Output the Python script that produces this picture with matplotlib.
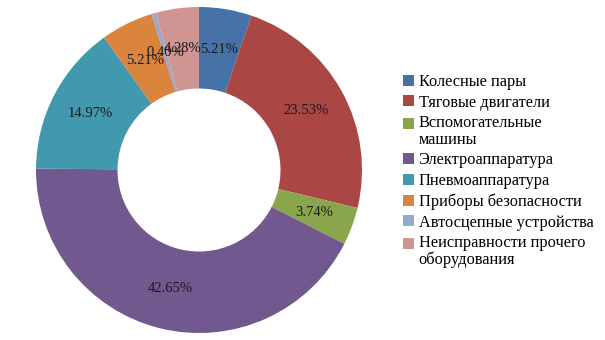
import matplotlib
matplotlib.use("Agg")
import matplotlib.pyplot as plt
from matplotlib.patches import Patch, Rectangle
from matplotlib.legend_handler import HandlerPatch

categories = ["Колесные пары", "Тяговые двигатели", "Вспомогательные\nмашины",
              "Электроаппаратура", "Пневмоаппаратура", "Приборы безопасности",
              "Автосцепные устройства", "Неисправности прочего\nоборудования"]
values = [5.21, 23.53, 3.74, 42.65, 14.97, 5.21, 0.40, 4.28]
colors = ["#4672A8", "#AA4644", "#8AA64D", "#71588F", "#4298AF", "#DB843D", "#93A9CF", "#D09493"]

plt.rcParams['font.family'] = ['Liberation Serif', 'DejaVu Serif']

fig = plt.figure(figsize=(6.05, 3.4), dpi=100)
ax = fig.add_axes([36/605, 7/340, 326/605, 326/340])

wedges, texts, autotexts = ax.pie(
    values, colors=colors, startangle=90, counterclock=False,
    radius=1.0, wedgeprops=dict(width=0.5, linewidth=0),
    autopct=lambda p: f"{p:.2f}%", pctdistance=0.75,
    textprops=dict(fontsize=10.5, color="#1a1a1a"))
ax.set_xlim(-1, 1)
ax.set_ylim(-1, 1)
ax.set_aspect('equal')
ax.axis('off')


class TopHandler(HandlerPatch):
    def __init__(self, shift):
        super().__init__()
        self.shift = shift

    def create_artists(self, legend, orig_handle, xdescent, ydescent, width, height,
                       fontsize, trans):
        p = Rectangle((-xdescent, -ydescent + self.shift), width, height,
                      facecolor=orig_handle.get_facecolor(), edgecolor='none',
                      transform=trans)
        return [p]


handles = [Patch(facecolor=c, edgecolor='none') for c in colors]
hmap = {h: TopHandler(6.0) for h, lab in zip(handles, categories) if "\n" in lab}
leg = fig.legend(handles, categories, loc='upper left', bbox_to_anchor=(403/605, 1 - 74/340),
                 frameon=False, fontsize=11.8, handlelength=0.65, handleheight=0.65,
                 handletextpad=0.3, labelspacing=0.28, borderpad=0, borderaxespad=0,
                 handler_map=hmap)
for t in leg.get_texts():
    t.set_linespacing(1.05)

fig.savefig("out.png", dpi=100)
